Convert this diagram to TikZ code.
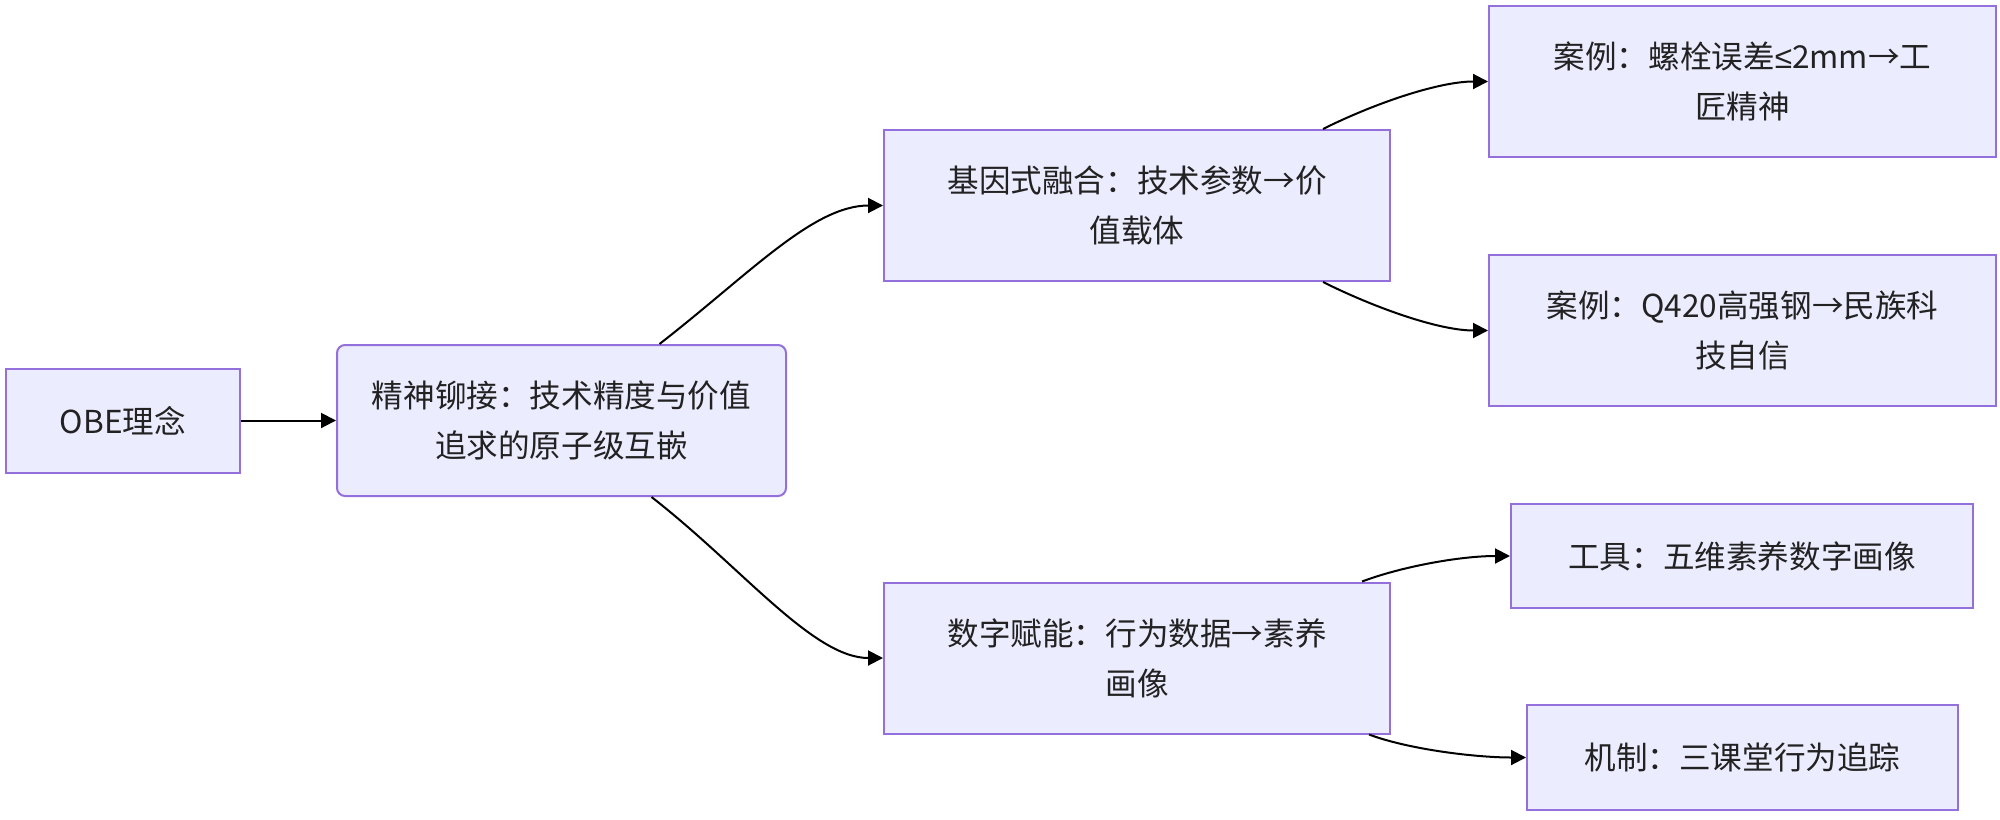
\documentclass[tikz,border=0pt]{standalone}
\usepackage{fontspec}
\setmainfont{Noto Sans CJK SC}
\newfontfamily\symfont{Liberation Sans}
\usetikzlibrary{arrows.meta,calc}
\definecolor{boxfill}{HTML}{ECECFF}
\definecolor{boxline}{HTML}{9370DB}
\definecolor{txt}{HTML}{222222}
\begin{document}
\begin{tikzpicture}[x=0.5pt,y=-0.5pt,
  box/.style={draw=boxline,fill=boxfill,line width=1pt,align=center,
    text=txt,font=\fontsize{15.8pt}{25pt}\selectfont,inner sep=0pt},
  conn/.style={draw=black,line width=1pt,-{Triangle[length=7.5pt,width=7.5pt]}}]
\useasboundingbox (0,0) rectangle (2000,819);
\node[box,minimum width=117pt,minimum height=52pt] (obe) at (123,420.5) {OBE理念};
\node[box,rounded corners=4pt,minimum width=224.5pt,minimum height=75.5pt] (jing) at (561.5,420.5) {精神铆接：技术精度与价值\\追求的原子级互嵌};
\node[box,minimum width=253pt,minimum height=75.5pt] (jiyin) at (1137,205.5) {基因式融合：技术参数→价\\值载体};
\node[box,minimum width=253pt,minimum height=75.5pt] (shu) at (1137,658) {数字赋能：行为数据→素养\\画像};
\node[box,minimum width=253.5pt,minimum height=75.5pt] (luo) at (1742.5,81.5) {案例：螺栓误差{\symfont ≤}2mm→工\\匠精神};
\node[box,minimum width=253.5pt,minimum height=75.5pt] (q420) at (1742.5,330.5) {案例：Q420高强钢→民族科\\技自信};
\node[box,minimum width=231pt,minimum height=52pt] (gong) at (1742,556) {工具：五维素养数字画像};
\node[box,minimum width=215.5pt,minimum height=52.5pt] (ji) at (1742.5,757.5) {机制：三课堂行为追踪};

\draw[conn] (obe.east) -- (jing.west);
\draw[conn] ($(jing.north)+(98,0)$) .. controls +(90,-70) and +(-70,0) .. (jiyin.west);
\draw[conn] ($(jing.south)+(90,0)$) .. controls +(90,70) and +(-70,0) .. (shu.west);
\draw[conn] ($(jiyin.north)+(186,0)$) .. controls +(50,-25) and +(-50,0) .. (luo.west);
\draw[conn] ($(jiyin.south)+(186,0)$) .. controls +(50,25) and +(-50,0) .. (q420.west);
\draw[conn] ($(shu.north)+(225,0)$) .. controls +(40,-15) and +(-50,0) .. (gong.west);
\draw[conn] ($(shu.south)+(232,0)$) .. controls +(40,15) and +(-50,0) .. (ji.west);
\end{tikzpicture}
\end{document}
